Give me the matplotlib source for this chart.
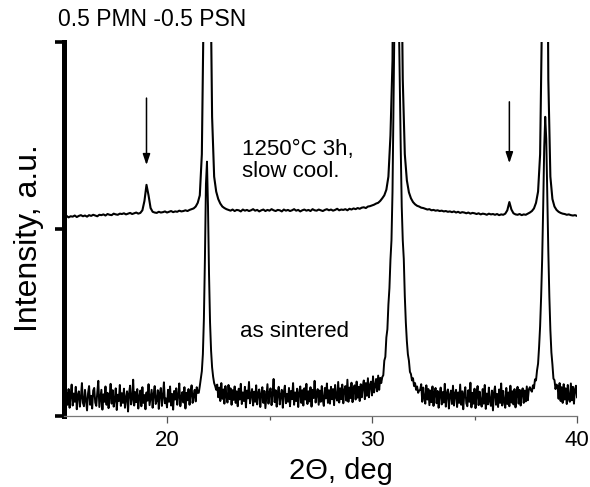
import numpy as np
import matplotlib
matplotlib.use("Agg")
import matplotlib.pyplot as plt

plt.rcParams['font.family'] = ['Liberation Sans', 'DejaVu Sans']

# ---------------- data (intensity, arbitrary units; axis spans 0..1000) ----------------
two_theta_start = 15.0
step_lower = 0.05   # sampling step of the "as sintered" scan
step_upper = 0.1    # sampling step of the annealed scan

# "as sintered" trace, 15.00 .. 40.00 deg
lower_intensity = [
    # 15.00 - 21.50
    40, 5, 62, 30, 72, 22, 55, 84, 28, 60, 38, 78, 18, 57, 66, 25, 50, 88, 35, 26,
    70, 42, 15, 61, 80, 30, 54, 20, 68, 75, 36, 27, 63, 94, 24, 48, 70, 17, 58, 38,
    79, 30, 62, 21, 50, 86, 33, 69, 25, 44, 74, 16, 57, 40, 83, 27, 61, 35, 73, 22,
    48, 66, 12, 60, 81, 31, 45, 97, 28, 64, 37, 72, 20, 52, 68, 26, 77, 35, 56, 18,
    63, 41, 85, 29, 50, 70, 22, 58, 80, 32, 42, 69, 19, 61, 75, 27, 52, 90, 34, 47,
    23, 70, 38, 79, 28, 59, 17, 67, 44, 74, 30, 55, 87, 26, 50, 64, 36, 77, 20, 62,
    42, 72, 30, 60, 82, 35, 54, 70, 39, 77, 62,
    # 21.55 - 22.40  (peak ~21.95)
    62, 80, 100, 120, 165, 260, 420, 620, 680, 560, 380, 250, 175, 130, 105, 88, 80, 70,
    # 22.45 - 30.40
    84, 50, 76, 40, 88, 46, 71, 33, 80, 52, 36, 83, 45, 74, 30, 69, 43, 79, 35, 66,
    26, 73, 44, 86, 32, 63, 40, 78, 23, 68, 47, 91, 34, 57, 72, 28, 65, 38, 82, 31,
    62, 71, 24, 58, 77, 35, 67, 21, 54, 85, 33, 63, 74, 29, 60, 99, 37, 69, 25, 61,
    78, 31, 56, 70, 22, 64, 81, 34, 59, 38, 75, 26, 67, 45, 88, 30, 63, 40, 73, 24,
    61, 79, 35, 69, 28, 74, 44, 86, 32, 66, 39, 77, 25, 70, 48, 94, 36, 60, 72, 30,
    68, 38, 80, 43, 27, 75, 47, 87, 35, 69, 33, 78, 45, 72, 29, 83, 50, 41, 91, 36,
    74, 45, 84, 34, 70, 80, 41, 97, 38, 76, 48, 89, 37, 73, 82, 44, 92, 49, 78, 40,
    85, 50, 80, 95, 45, 88, 54, 101, 50, 83, 92, 55, 106, 63, 80, 99, 66, 108, 70, 102,
    # 30.45 - 32.30  (peak ~31.2, off scale)
    88, 104, 109, 148, 158, 210, 232, 298, 342, 418, 470, 600, 850, 1100, 1200, 1250,
    1200, 1100, 900, 720, 560, 470, 420, 320, 250, 200, 165, 148, 118, 112, 95, 101,
    80, 88, 70, 79, 62, 68,
    # 32.35 - 37.75
    70, 85, 38, 76, 48, 33, 82, 44, 72, 29, 68, 37, 79, 27, 62, 75, 34, 67, 22, 58,
    76, 31, 64, 36, 86, 25, 61, 71, 20, 57, 68, 32, 81, 28, 60, 70, 24, 63, 35, 84,
    30, 66, 18, 59, 77, 34, 26, 69, 38, 89, 23, 62, 33, 73, 21, 57, 80, 29, 65, 36,
    25, 72, 33, 83, 19, 60, 31, 76, 39, 27, 68, 15, 63, 79, 30, 59, 24, 71, 35, 87,
    28, 67, 37, 22, 75, 32, 63, 26, 81, 36, 66, 31, 72, 23, 60, 78, 33, 70, 28, 64,
    74, 35, 68, 39, 79, 42, 71, 77, 69,
    # 37.80 - 39.00  (peak ~38.45)
    65, 82, 74, 98, 95, 122, 140, 185, 240, 320, 420, 560, 720, 800, 740, 590, 440,
    320, 230, 170, 138, 100, 96, 72, 84,
    # 39.05 - 40.00
    80, 46, 88, 40, 77, 35, 85, 44, 74, 32, 83, 45, 38, 87, 42, 78, 33, 72, 81, 50,
]

# "1250°C 3h, slow cool." trace, 15.0 .. 40.0 deg
upper_intensity = [
    # 15.0 - 18.7
    532, 535, 531, 534, 533, 536, 532, 535, 537, 534, 536, 533, 537, 535, 538, 536,
    534, 538, 537, 539, 536, 540, 538, 537, 541, 539, 538, 541, 540, 542, 539, 541,
    543, 540, 542, 544, 541, 543,
    # 18.8 - 19.4 (superlattice peak)
    550, 575, 618, 590, 556, 546, 544,
    # 19.5 - 21.4
    543, 546, 544, 545, 547, 544, 546, 548, 545, 547, 546, 549, 547, 548, 550, 548,
    551, 553, 555, 560,
    # 21.5 - 23.0
    570, 590, 700, 1150, 2500, 2500, 1300, 800, 640, 600, 580, 568, 560, 556, 553, 551,
    # 23.1 - 30.2
    549, 552, 548, 551, 550, 547, 552, 549, 551, 548, 550, 553,
    549, 551, 547, 550, 552, 548, 551, 549, 553, 550, 548, 551,
    550, 547, 552, 549, 551, 548, 550, 553, 549, 551, 547, 550,
    552, 549, 551, 548, 553, 550, 549, 552, 550, 548, 551, 553,
    550, 552, 549, 551, 554, 550, 552, 551, 553, 550, 554, 552,
    555, 553, 556, 554, 557, 558, 556, 560, 561, 563, 565, 568,
    # 30.3 - 32.0
    570, 575, 582, 590, 605, 640, 750, 950, 1800, 2500, 2500, 1400, 900, 700, 630, 598,
    582, 572,
    # 32.1 - 36.4
    566, 562, 560, 557, 556, 554, 552, 553, 550, 551, 549, 550, 548, 549, 547, 548,
    546, 547, 545, 547, 544, 546, 543, 545, 544, 542, 544, 541, 543, 542, 540, 542,
    539, 541, 540, 538, 541, 539, 540, 538, 540, 537, 539, 538,
    # 36.5 - 37.0 (superlattice peak)
    541, 550, 572, 552, 542, 539,
    # 37.1 - 37.7
    538, 540, 537, 539, 538, 541, 544,
    # 37.8 - 39.2
    548, 555, 570, 600, 700, 1100, 2500, 1800, 900, 640, 580, 560, 551, 546, 543,
    # 39.3 - 40.0
    541, 540, 538, 539, 537, 536, 537, 535,
]

x_ticks = [20, 30, 40]
x_minor_ticks = [25, 35]
y_ticks = [0, 500, 1000]
arrow_positions = [19.0, 36.7]
arrow_tops = [850, 840]
arrow_tips = [671, 676]

title_text = "0.5 PMN -0.5 PSN"
upper_label = "1250°C 3h,\nslow cool."
lower_label = "as sintered"
x_label = "2\u0398, deg"
y_label = "Intensity, a.u."

# ---------------- plot ----------------
x_lower = two_theta_start + step_lower * np.arange(len(lower_intensity))
x_upper = two_theta_start + step_upper * np.arange(len(upper_intensity))

fig = plt.figure(figsize=(5.9, 4.87), dpi=100)
ax = fig.add_axes([0.1093, 0.1458, 0.8687, 0.768])

ax.plot(x_lower, lower_intensity, color='black', lw=1.4)
ax.plot(x_upper, upper_intensity, color='black', lw=1.5)

ax.set_xlim(15, 40)
ax.set_ylim(0, 1000)

for spine in ['top', 'right']:
    ax.spines[spine].set_visible(False)
ax.spines['left'].set_linewidth(3.6)
ax.spines['left'].set_color('black')
ax.spines['bottom'].set_linewidth(0.9)
ax.spines['bottom'].set_color('#777777')

ax.set_xticks(x_ticks)
ax.set_xticks(x_minor_ticks, minor=True)
ax.set_yticks(y_ticks)
ax.set_yticklabels([])
ax.tick_params(axis='x', which='major', direction='out', length=5, width=0.9,
               color='#555555', labelsize=16, pad=5)
ax.tick_params(axis='x', which='minor', direction='out', length=3, width=0.9,
               color='#555555')
ax.tick_params(axis='y', which='major', direction='out', length=6.5, width=2.6,
               color='black')

for xp, yt, yb in zip(arrow_positions, arrow_tops, arrow_tips):
    ax.annotate('', xy=(xp, yb), xytext=(xp, yt),
                arrowprops=dict(arrowstyle='-|>,head_length=0.65,head_width=0.22',
                                color='black', lw=1.1, shrinkA=0, shrinkB=0,
                                mutation_scale=10))

ax.text(23.66, 740, upper_label, fontsize=16, ha='left', va='top', linespacing=1.05)
ax.text(23.56, 225, lower_label, fontsize=16, ha='left', va='center')

ax.set_xlabel(x_label, fontsize=21, va='baseline')
ax.xaxis.set_label_coords(0.5395, -0.168)
ax.set_ylabel(y_label, fontsize=23, va='baseline')
ax.yaxis.set_label_coords(-0.0537, 0.475)

fig.text(58 / 590, 1 - 20 / 487, title_text, fontsize=16.5, ha='left', va='center')

fig.savefig('out.png', dpi=100)
